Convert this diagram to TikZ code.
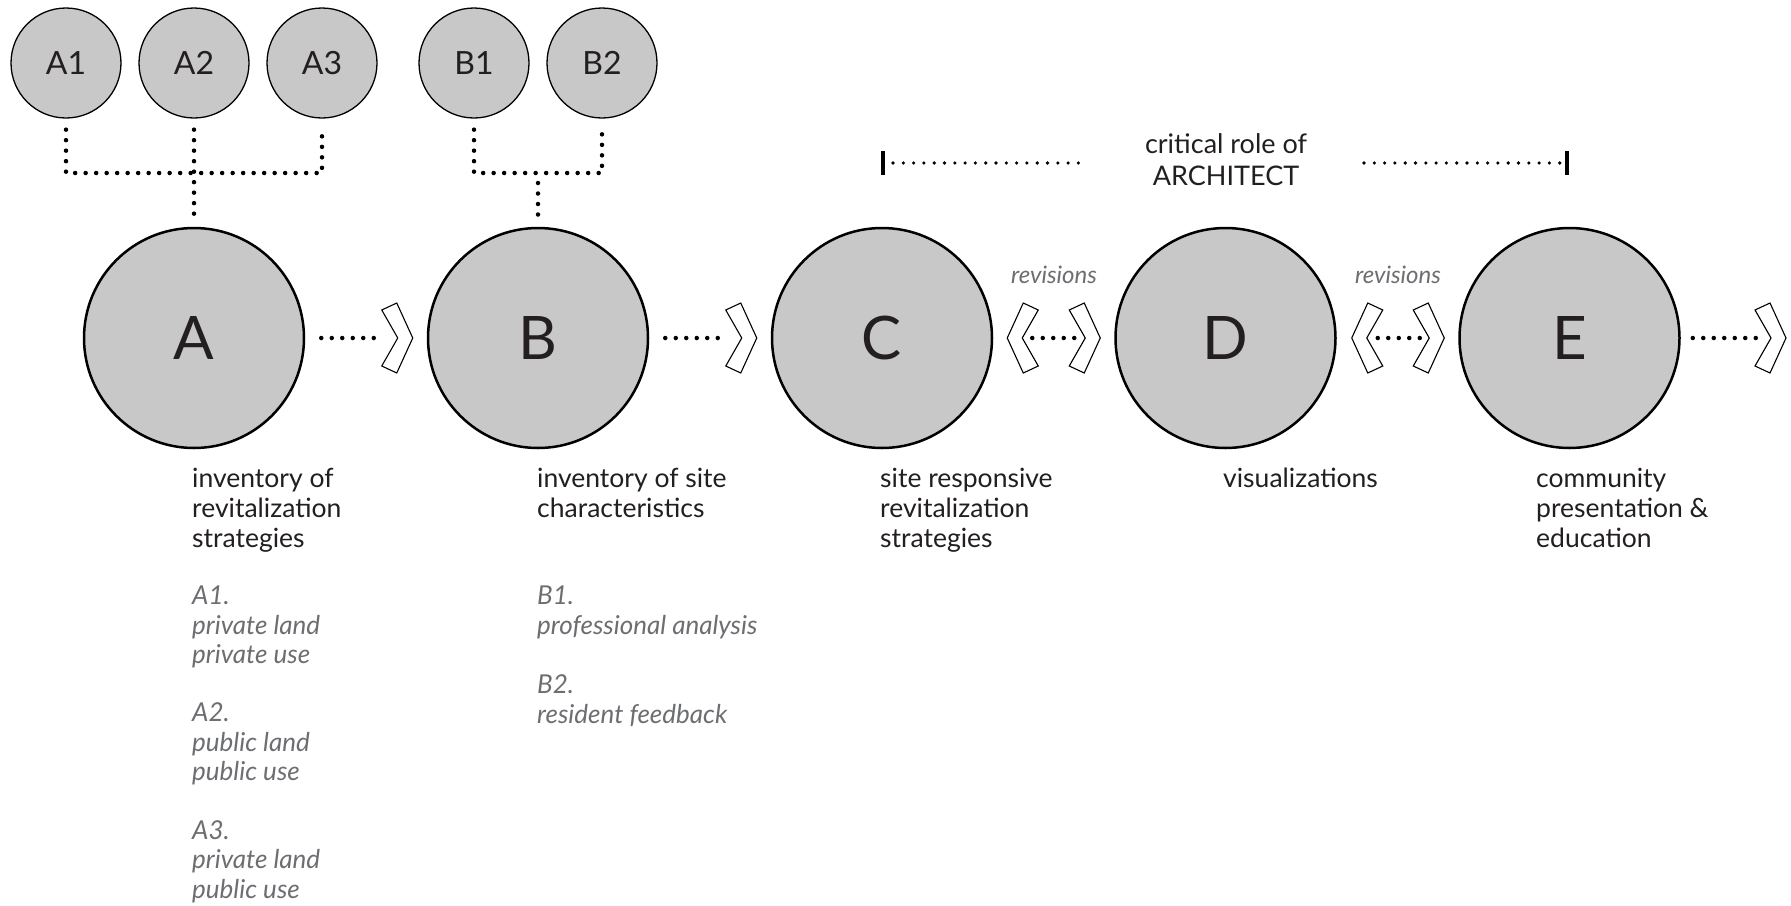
\documentclass[tikz,border=0pt]{standalone}
\usepackage{fontspec}
\setmainfont{Lato}
\definecolor{cfill}{HTML}{C8C8C8}
\definecolor{txt}{HTML}{231F20}
\definecolor{gtxt}{HTML}{6D6E71}
\tikzset{
  bigc/.style={circle,draw=black,line width=2.5pt,fill=cfill,minimum size=220pt,inner sep=0pt,text=txt,font=\fontsize{60}{60}\selectfont},
  smallc/.style={circle,draw=black,line width=1.3pt,fill=cfill,minimum size=110pt,inner sep=0pt,text=txt,font=\fontsize{32}{32}\selectfont},
  dotline/.style={draw=black,line width=4.5pt,line cap=round,dash pattern=on 0pt off 10.5pt},
  smalldots/.style={draw=black,line width=3.6pt,line cap=round,dash pattern=on 0pt off 10.3pt},
  barline/.style={draw=black,line width=4pt},
  chev/.style={draw=black,line width=1.1pt,line join=miter,fill=white},
  body/.style={anchor=base west,inner sep=0pt,text=txt,font=\fontsize{26.5}{30}\selectfont},
  ital/.style={anchor=base west,inner sep=0pt,text=gtxt,font=\fontsize{26}{30}\selectfont\itshape},
  revlab/.style={anchor=base,inner sep=0pt,text=gtxt,font=\fontsize{24}{28}\selectfont\itshape},
  toplab/.style={anchor=base,inner sep=0pt,text=txt,font=\fontsize{27}{30}\selectfont},
  chevR/.pic={\draw[chev] (0,0) -- (-16,-35) -- (-31,-28) -- (-15,0) -- (-31,28) -- (-16,35) -- cycle;},
  chevL/.pic={\draw[chev] (0,0) -- (16,-35) -- (31,-28) -- (15,0) -- (31,28) -- (16,35) -- cycle;}
}
\begin{document}
\begin{tikzpicture}[x=1pt,y=-1pt]
\fill[white] (0,0) rectangle (1791,905);
\useasboundingbox (0,0) rectangle (1791,905);

% big circles
\node[bigc] (A) at (194,338) {A};
\node[bigc] (B) at (538,338) {B};
\node[bigc] (C) at (882,338) {C};
\node[bigc] (D) at (1225.5,338) {D};
\node[bigc] (E) at (1569.5,338) {E};

% small circles
\node[smallc] (A1) at (66,63) {A1};
\node[smallc] (A2) at (194,63) {A2};
\node[smallc] (A3) at (322,63) {A3};
\node[smallc] (B1) at (474,63) {B1};
\node[smallc] (B2) at (602,63) {B2};

% hierarchy connectors
\coordinate (jA) at (194,173);
\coordinate (jB) at (538,173);
\draw[dotline] ([yshift=-11pt]A1.south) -- (A1.south |- jA) -- (A3.south |- jA) -- ([yshift=-11pt]A3.south);
\draw[dotline] ([yshift=-11pt]A2.south) -- ([yshift=9pt]A.north);
\draw[dotline] ([yshift=-11pt]B1.south) -- (B1.south |- jB) -- (B2.south |- jB) -- ([yshift=-11pt]B2.south);
\draw[dotline] ([yshift=-10pt]jB) -- ([yshift=10pt]B.north);

% process connectors
\draw[dotline] ([xshift=16pt]A.east) -- ([xshift=-44pt]B.west);
\pic at ([xshift=-14pt]B.west) {chevR};
\draw[dotline] ([xshift=16pt]B.east) -- ([xshift=-44pt]C.west);
\pic at ([xshift=-14pt]C.west) {chevR};

\pic at ([xshift=14pt]C.east) {chevL};
\draw[dotline] ([xshift=39pt]C.east) -- ([xshift=-39pt]D.west);
\pic at ([xshift=-14pt]D.west) {chevR};

\pic at ([xshift=15pt]D.east) {chevL};
\draw[dotline] ([xshift=41pt]D.east) -- ([xshift=-38pt]E.west);
\pic at ([xshift=-14pt]E.west) {chevR};

\coordinate (out) at (1786,338);
\draw[dotline] ([xshift=12pt]E.east) -- ([xshift=-28pt]out);
\pic at (out) {chevR};

% revisions labels
\node[revlab] (r1) at (1054,283) {revisions};
\node[revlab] (r2) at (1398,283) {revisions};

% critical role bracket
\coordinate (brL) at (883,163);
\coordinate (brR) at (1567,163);
\draw[barline] ([yshift=12pt]brL) -- ([yshift=-12pt]brL);
\draw[barline] ([yshift=12pt]brR) -- ([yshift=-12pt]brR);
\draw[smalldots] ([xshift=10pt]brL) -- (1088,163);
\draw[smalldots] (1364,163) -- ([xshift=-2pt]brR);
\node[toplab] (cr1) at (1226,153) {critical role of};
\node[toplab] (cr2) at (1226,185) {ARCHITECT};

% labels A
\node[body] (la1) at (192,487) {inventory of};
\node[body] (la2) at (192,517) {revitalization};
\node[body] (la3) at (192,547) {strategies};
\node[ital] (ia1) at (192,604.5) {A1.};
\node[ital] (ia2) at (192,634.5) {private land};
\node[ital] (ia3) at (192,663.5) {private use};
\node[ital] (ia4) at (192,721.5) {A2.};
\node[ital] (ia5) at (192,751.5) {public land};
\node[ital] (ia6) at (192,780.5) {public use};
\node[ital] (ia7) at (192,839.5) {A3.};
\node[ital] (ia8) at (192,868.5) {private land};
\node[ital] (ia9) at (192,898) {public use};

% labels B
\node[body] (lb1) at (537,487) {inventory of site};
\node[body] (lb2) at (537,517) {characteristics};
\node[ital] (ib1) at (537,604) {B1.};
\node[ital] (ib2) at (537,634) {professional analysis};
\node[ital] (ib3) at (537,693) {B2.};
\node[ital] (ib4) at (537,723) {resident feedback};

% labels C, D, E
\node[body] (lc1) at (880,487) {site responsive};
\node[body] (lc2) at (880,517) {revitalization};
\node[body] (lc3) at (880,547) {strategies};
\node[body] (ld1) at (1223,487) {visualizations};
\node[body] (le1) at (1536,487) {community};
\node[body] (le2) at (1536,517) {presentation \&};
\node[body] (le3) at (1536,547) {education};
\end{tikzpicture}
\end{document}
